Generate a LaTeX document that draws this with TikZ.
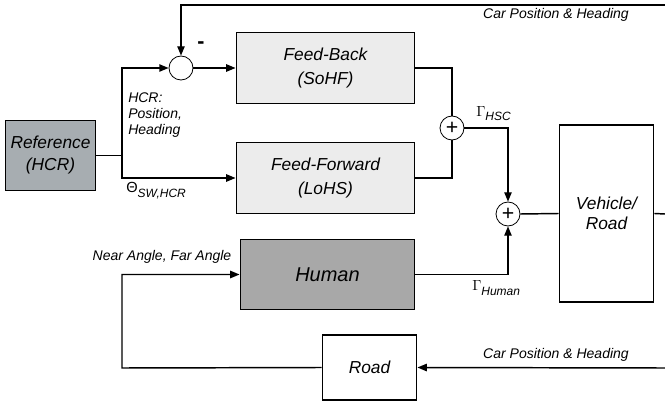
\documentclass[tikz,border=0pt]{standalone}
\usepackage{fontspec}
\setmainfont{Liberation Sans}
\usetikzlibrary{arrows.meta, positioning, calc}
\definecolor{refgray}{HTML}{A7ADB1}
\definecolor{humgray}{HTML}{A8A8A8}
\definecolor{ctrlgray}{HTML}{ECECEC}
\newcommand{\sigsub}[1]{\raisebox{-3pt}{\fontsize{9}{10}\selectfont\itshape #1}}

\begin{document}
\begin{tikzpicture}[
    x=0.75pt, y=-0.75pt,
    box/.style={draw, line width=0.9pt, inner sep=0pt, align=center,
                font=\fontsize{13}{18}\selectfont\itshape},
    sumnode/.style={draw, circle, fill=white, line width=0.6pt,
                    minimum size=18pt, inner sep=0pt, font=\fontsize{16}{16}\selectfont},
    arrow/.style={-{Triangle[length=7pt, width=5.5pt]}, line width=1.1pt},
    link/.style={line width=1.1pt},
    label/.style={font=\fontsize{10.5}{12}\selectfont\itshape},
    siglabel/.style={anchor=base west, inner sep=0pt, font=\fontsize{11}{12}\selectfont}
]
\useasboundingbox (0,0) rectangle (665,403);

% Blocks
\node[box, fill=refgray, minimum width=68pt, minimum height=52.5pt,
      font=\fontsize{13}{16.5}\selectfont\itshape] (ref) at (50.5, 155.5)
    {Reference\\(HCR)};
\node[box, fill=ctrlgray, minimum width=134pt, minimum height=53pt] (fb) at (325.5, 68)
    {Feed-Back\\(SoHF)};
\node[box, fill=ctrlgray, minimum width=134pt, minimum height=53pt] (ff) at (325.5, 178)
    {Feed-Forward\\(LoHS)};
\node[box, fill=humgray, minimum width=131pt, minimum height=53pt,
      font=\fontsize{15}{18}\selectfont\itshape] (human) at (327.5, 274.5)
    {Human};
\node[box, fill=white, minimum width=71pt, minimum height=132.75pt,
      font=\fontsize{13}{15}\selectfont\itshape] (veh) at (606.5, 213.5)
    {Vehicle/\\Road};
\node[box, fill=white, minimum width=71pt, minimum height=48.75pt] (road) at (369.5, 367.5)
    {Road};

% Summing junctions
\node[sumnode] (sum1) at (181, 68) {};
\node[sumnode] (sum2) at (452, 128) {+};
\node[sumnode] (sum3) at (508, 214) {+};

% Helper points
\coordinate (split) at (122, 155.5);
\coordinate (topR) at (665, 5);
\coordinate (vehR) at (665, 214);
\coordinate (botR) at (665, 368);
\coordinate (loop) at (122, 368);

% Connectors
\draw[arrow] (topR) -- (topR -| sum1) -- (sum1.north);
\draw[link] (ref.east) -- (split);
\draw[arrow] (split) |- (sum1.west);
\draw[arrow] (split) |- (ff.west);
\draw[arrow] (sum1.east) -- (fb.west);
\draw[link] (fb.east) -| (sum2.north);
\draw[link] (ff.east) -| (sum2.south);
\draw[arrow] (sum2.east) -| (sum3.north);
\draw[arrow] (human.east) -| (sum3.south);
\draw[link] (sum3.east) -- (veh.west);
\draw[link] (veh.east) -- (vehR);
\draw[arrow] (botR) -- (road.east);
\draw[arrow] (road.west) -- (loop) |- (human.west);

% Labels
\node[label] (toplbl) at (556, 15) {Car Position \& Heading};
\node[label] (botlbl) at (556, 355) {Car Position \& Heading};
\node[font=\fontsize{16}{16}\selectfont\bfseries] (minus) at (201, 45) {-};
\node[label, anchor=north west, align=left, inner sep=0pt] (hcrlbl) at (128, 92)
    {HCR:\\Position,\\Heading};
\node[siglabel, font=\fontsize{11}{12}\selectfont] (thetalbl) at (126, 193)
    {Θ\sigsub{SW,HCR}};
\node[siglabel] (gamhsc) at (476, 117) {$\Gamma$\sigsub{HSC}};
\node[siglabel] (gamhum) at (472, 291) {$\Gamma$\sigsub{Human}};
\node[label] (anglbl) at (162, 257) {Near Angle, Far Angle};

\end{tikzpicture}
\end{document}
